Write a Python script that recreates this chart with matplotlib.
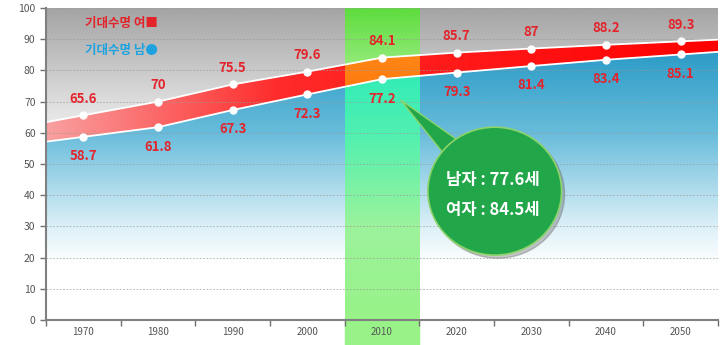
import numpy as np
import matplotlib.pyplot as plt
from matplotlib.colors import LinearSegmentedColormap
from matplotlib.patches import Ellipse, Polygon, Rectangle

plt.rcParams['font.family'] = ['Noto Sans CJK KR', 'DejaVu Sans']

years = [1970, 1980, 1990, 2000, 2010, 2020, 2030, 2040, 2050]
female = [65.6, 70, 75.5, 79.6, 84.1, 85.7, 87, 88.2, 89.3]
male = [58.7, 61.8, 67.3, 72.3, 77.2, 79.3, 81.4, 83.4, 85.1]
legend_labels = ['기대수명 여■', '기대수명 남●']
callout_lines = ['남자 : 77.6세', '여자 : 84.5세']
highlight_year = 2010

RED = '#e3242b'
BLUE = '#1ea2e0'
GREEN = '#22a64a'

x0, x1 = years[0] - 5, years[-1] + 5


def half_step(v):
    # carry the area out to the plot edges along the end segments
    v = np.asarray(v, float)
    return np.concatenate([[v[0] - (v[1] - v[0]) / 2], v, [v[-1] + (v[-1] - v[-2]) / 2]])


xs = np.concatenate([[x0], years, [x1]])
fe = half_step(female)
me = half_step(male)

fig = plt.figure(figsize=(7.2, 3.45), dpi=100)
ax = fig.add_axes([46 / 720, 25 / 345, 672 / 720, 312 / 345])


def grad(extent, stops, clip, horizontal=False, z=1):
    cmap = LinearSegmentedColormap.from_list('g', stops)
    a = np.linspace(0, 1, 256)
    a = a.reshape(1, -1) if horizontal else a.reshape(-1, 1)
    im = ax.imshow(a, cmap=cmap, extent=extent, origin='lower', aspect='auto',
                   interpolation='bilinear', zorder=z)
    im.set_clip_path(clip)
    return im


top_poly = Polygon(np.column_stack([np.r_[xs, x1, x0], np.r_[fe, 100, 100]]),
                   transform=ax.transData)
mid_poly = Polygon(np.column_stack([np.r_[xs, xs[::-1]], np.r_[fe, me[::-1]]]),
                   transform=ax.transData)
low_poly = Polygon(np.column_stack([np.r_[xs, x1, x0], np.r_[me, 0, 0]]),
                   transform=ax.transData)

full = [x0, x1, 0, 100]
band = [highlight_year - 5, highlight_year + 5, 0, 100]

# gray sky above the female line
grad(full, [(0, '#f4f4f4'), (0.6, '#f0f0f0'), (1, '#a4a4a4')], top_poly)
# red gap between the two lines, pink on the left
grad([x0, x1, 0, 100], [(0, '#f9a0a0'), (0.35, '#ff2a2a'), (1, '#ff0000')],
     mid_poly, horizontal=True)
# blue area under the male line
grad(full, [(0, '#ffffff'), (0.18, '#ffffff'), (0.3, '#dcf0f7'), (0.45, '#a2d6e9'),
            (0.6, '#68bcdb'), (0.85, '#2f9dc8'), (1, '#2594c2')], low_poly)

# highlighted decade
grad(band, [(0, '#c0f5a8'), (0.75, '#a8f090'), (1, '#5edc3e')], top_poly, z=1.5)
grad(band, [(0, '#ff6a00'), (0.75, '#ff7a10'), (1, '#ff9a20')], mid_poly, z=1.5)
grad(band, [(0, '#98f288'), (0.3, '#9cf39c'), (0.6, '#50f0b0'),
            (0.8, '#30ecb8'), (1, '#28e8b0')], low_poly, z=1.5)
ax.add_patch(Rectangle((band[0], -8), 10, 8, color='#98f288', clip_on=False, zorder=0.5))

# white edges and points
ax.plot(xs, fe, color='white', lw=1.3, zorder=4)
ax.plot(xs, me, color='white', lw=1.3, zorder=4)
ax.plot(years, female, 'o', color='white', ms=5, zorder=4)
ax.plot(years, male, 'o', color='white', ms=5, zorder=4)

for x, v in zip(years, female):
    ax.annotate(f'{v:g}', (x, v), xytext=(0, 12), textcoords='offset points',
                ha='center', va='center', color=RED, fontsize=9.5,
                fontweight='bold', zorder=5)
for x, v in zip(years, male):
    ax.annotate(f'{v:g}', (x, v), xytext=(0, -14), textcoords='offset points',
                ha='center', va='center', color=RED, fontsize=9.5,
                fontweight='bold', zorder=5)

ax.text(1970.2, 94.9, legend_labels[0], color=RED, fontsize=9, fontweight='bold',
        va='center', zorder=5)
ax.text(1970.2, 86.5, legend_labels[1], color=BLUE, fontsize=9, fontweight='bold',
        va='center', zorder=5)

# callout bubble
cx, cy = 2025.1, 41.3
ax.add_patch(Ellipse((cx + 0.4, cy - 1.0), 17.9, 41, color='#606060', alpha=0.35, zorder=6))
ax.add_patch(Polygon([(2012.5, 70.5), (2018.1, 53.8), (2020.1, 57.7)],
                     facecolor=GREEN, edgecolor='#8cd46a', lw=1, zorder=6))
ax.add_patch(Ellipse((cx, cy), 17.9, 41, facecolor=GREEN, edgecolor='#8cd46a',
                     lw=1.2, zorder=6))
ax.text(cx - 0.3, 44.9, callout_lines[0], color='white', fontsize=12,
        fontweight='bold', ha='center', va='center', zorder=7)
ax.text(cx - 0.3, 35.3, callout_lines[1], color='white', fontsize=12,
        fontweight='bold', ha='center', va='center', zorder=7)

ax.set_xlim(x0, x1)
ax.set_ylim(0, 100)
ax.set_axisbelow(False)
ax.yaxis.grid(True, ls=(0, (2, 2)), color='#9a9a9a', lw=0.6, alpha=0.8)

ax.set_xticks(np.arange(x0, x1 + 1, 10))
ax.set_xticklabels([])
ax.set_xticks(years, minor=True)
ax.set_xticklabels([str(y) for y in years], minor=True)
ax.tick_params(axis='x', which='major', length=4, color='#707070', width=1)
ax.tick_params(axis='x', which='minor', length=0, pad=5, labelsize=7, labelcolor='#555555')
ax.set_yticks(range(0, 101, 10))
ax.tick_params(axis='y', length=4, color='#707070', width=1, labelsize=7.5,
               labelcolor='#555555')

for s in ['top', 'right']:
    ax.spines[s].set_visible(False)
for s in ['left', 'bottom']:
    ax.spines[s].set_color('#808080')
    ax.spines[s].set_linewidth(1.5)
    ax.spines[s].set_zorder(5)

fig.savefig('out.png', dpi=100)
